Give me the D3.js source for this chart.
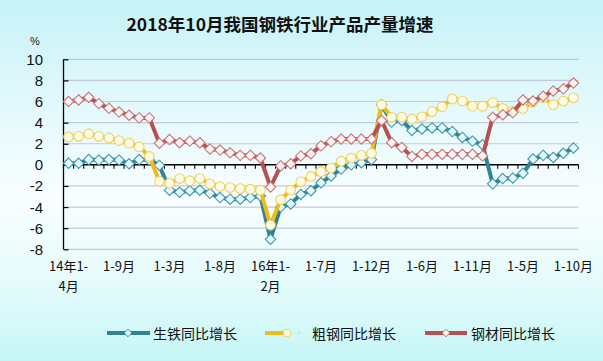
<!DOCTYPE html>
<html><head><meta charset="utf-8">
<script src="https://cdn.jsdelivr.net/npm/d3@7/dist/d3.min.js"></script>
<style>html,body{margin:0;padding:0;background:#fff;}svg{display:block;}</style>
</head><body>
<svg id="chart" width="603" height="361"></svg>
<script>
// ---- data ----
const categories = [
 "14年1-4月","14年1-5月","14年1-6月","14年1-7月","14年1-8月","14年1-9月","14年1-10月","14年1-11月","14年1-12月",
 "15年1-2月","15年1-3月","15年1-4月","15年1-5月","15年1-6月","15年1-7月","15年1-8月","15年1-9月","15年1-10月","15年1-11月","15年1-12月",
 "16年1-2月","16年1-3月","16年1-4月","16年1-5月","16年1-6月","16年1-7月","16年1-8月","16年1-9月","16年1-10月","16年1-11月","16年1-12月",
 "17年1-2月","17年1-3月","17年1-4月","17年1-5月","17年1-6月","17年1-7月","17年1-8月","17年1-9月","17年1-10月","17年1-11月","17年1-12月",
 "18年1-2月","18年1-3月","18年1-4月","18年1-5月","18年1-6月","18年1-7月","18年1-8月","18年1-9月","18年1-10月"
];
const pigIron = [0.15,0.15,0.5,0.45,0.5,0.45,0.1,0.5,0.45,-0.05,
 -2.4,-2.6,-2.45,-2.4,-2.7,-3.1,-3.25,-3.25,-3.1,-2.95,
 -7.05,-4.0,-3.7,-2.8,-2.45,-1.7,-1.05,-0.4,0.0,0.2,
 0.5,5.7,4.05,4.2,3.25,3.4,3.5,3.5,3.15,2.6,
 2.25,1.9,-1.8,-1.3,-1.25,-0.8,0.55,0.9,0.7,1.1,1.6];
const crudeSteel = [2.65,2.7,2.95,2.7,2.55,2.3,2.05,1.7,0.8,-1.55,
 -1.75,-1.3,-1.5,-1.3,-1.8,-2.05,-2.15,-2.25,-2.3,-2.4,
 -5.7,-3.3,-2.4,-1.6,-1.1,-0.65,-0.3,0.35,0.65,0.9,
 1.1,5.7,4.5,4.5,4.35,4.55,5.05,5.5,6.25,6.05,
 5.55,5.55,5.9,5.35,5.1,5.35,5.95,6.35,5.7,6.05,6.35];
const rolledSteel = [6.0,6.15,6.4,5.8,5.35,5.0,4.7,4.45,4.45,2.05,
 2.4,2.1,2.25,2.1,1.5,1.4,1.15,0.9,0.9,0.65,
 -2.1,-0.1,0.1,0.85,1.05,1.8,2.2,2.45,2.45,2.45,
 2.45,4.2,2.1,1.65,0.8,1.0,1.0,1.0,1.0,1.0,
 1.0,0.85,4.5,4.75,4.95,6.15,6.05,6.5,7.0,7.2,7.75];
const seriesNames = ["生铁同比增长","粗钢同比增长","钢材同比增长"];
const tickLabels = [["14年1-","4月"],["1-9月"],["1-3月"],["1-8月"],["16年1-","2月"],["1-7月"],["1-12月"],["1-6月"],["1-11月"],["1-5月"],["1-10月"]];
const yTicks = [10,8,6,4,2,0,-2,-4,-6,-8];
const title = "2018年10月我国钢铁行业产品产量增速";

// ---- setup ----
const svg = d3.select("#chart");
const W = 603, H = 361;
const defs = svg.append("defs");
const grad = defs.append("linearGradient").attr("id","bg").attr("x1",0).attr("y1",0).attr("x2",0).attr("y2",1);
[[0,"#c6f2f8"],[0.25,"#dff8fb"],[0.55,"#f9feff"],[0.78,"#e6fbfb"],[1,"#c6f6f7"]].forEach(([o,c])=>grad.append("stop").attr("offset",o).attr("stop-color",c));
svg.append("rect").attr("width",W).attr("height",H).attr("fill","url(#bg)");

const plotL = 63.5, plotR = 578.5, plotT = 59.3, plotB = 249.3;
const x = d3.scaleBand().domain(d3.range(categories.length)).range([plotL,plotR]);
const cx = i => x(i) + x.bandwidth()/2;
const y = d3.scaleLinear().domain([-8,10]).range([plotB, plotT]);

// title
svg.append("text").attr("x",280).attr("y",23).attr("text-anchor","middle").attr("dominant-baseline","central")
  .attr("font-family","'Noto Sans CJK SC', sans-serif").attr("font-weight","bold").attr("font-size",17.5).attr("fill","#111").text(title);
svg.append("text").attr("x",35).attr("y",41).attr("text-anchor","middle").attr("dominant-baseline","central")
  .attr("font-family","'Liberation Sans', sans-serif").attr("font-size",11).attr("fill","#222").text("%");

// gridlines
svg.append("g").selectAll("line").data(yTicks.filter(v=>v!==0)).join("line")
  .attr("x1",plotL).attr("x2",plotR).attr("y1",d=>y(d)).attr("y2",d=>y(d))
  .attr("stroke","#c3c9da").attr("stroke-width",1.2);

// y axis
const yAxis = d3.axisRight(y).tickValues(yTicks).tickSize(5).tickFormat("");
const gy = svg.append("g").attr("transform",`translate(${plotL},0)`).call(yAxis);
gy.select(".domain").attr("stroke","#000").attr("stroke-width",1.3).attr("d",`M0,${y(10)}V${y(-8)}`);
gy.selectAll(".tick line").attr("stroke","#000").attr("stroke-width",1.2);
svg.append("g").selectAll("text").data(yTicks).join("text")
  .attr("x",43).attr("y",d=>y(d)).attr("text-anchor","end").attr("dominant-baseline","central")
  .attr("font-family","'Liberation Sans', Arial, sans-serif").attr("font-size",15).attr("fill","#111")
  .text(d=>String(d));

// category axis at zero
const zeroY = y(0);
svg.append("line").attr("x1",plotL).attr("x2",plotR).attr("y1",zeroY).attr("y2",zeroY).attr("stroke","#000").attr("stroke-width",1.5);
const bounds = d3.range(categories.length+1).map(k => k<categories.length ? x(k) : plotR);
svg.append("g").selectAll("line").data(bounds).join("line")
  .attr("x1",d=>d).attr("x2",d=>d).attr("y1",zeroY).attr("y2",zeroY+4).attr("stroke","#000").attr("stroke-width",1.1);

// x labels every 5 categories
const labelIdx = d3.range(0, categories.length, 5);
const gl = svg.append("g").attr("font-family","'Noto Sans CJK SC', sans-serif").attr("font-size",13).attr("fill","#111");
labelIdx.forEach((ci,k)=>{
  tickLabels[k].forEach((t,li)=>{
    gl.append("text").attr("x",cx(ci)).attr("y",265.5+li*19.5).attr("text-anchor","middle").attr("dominant-baseline","central").text(t);
  });
});

// series
const diamond = "M0,-5.2L5.2,0L0,5.2L-5.2,0Z";
const series = [
  {name:seriesNames[0], values:pigIron, color:"#2f8395", mStroke:"#3f97ab", mFill:"#e6f8fc", shape:"diamond"},
  {name:seriesNames[1], values:crudeSteel, color:"#efbe16", mStroke:"#f0d062", mFill:"#fffbe6", shape:"circle"},
  {name:seriesNames[2], values:rolledSteel, color:"#b8504f", mStroke:"#c57678", mFill:"#fff3f3", shape:"diamond"}
];
const line = d3.line().x((d,i)=>cx(i)).y(d=>y(d));
series.forEach(s=>{
  const g = svg.append("g");
  g.append("path").attr("d",line(s.values)).attr("fill","none").attr("stroke",s.color).attr("stroke-width",4).attr("stroke-linejoin","round");
  if (s.shape==="circle") {
    g.selectAll("circle").data(s.values).join("circle").attr("cx",(d,i)=>cx(i)).attr("cy",d=>y(d)).attr("r",4.8)
      .attr("fill",s.mFill).attr("stroke",s.mStroke).attr("stroke-width",1.1);
  } else {
    g.selectAll("path.m").data(s.values).join("path").attr("class","m").attr("d",diamond)
      .attr("transform",(d,i)=>`translate(${cx(i)},${y(d)})`)
      .attr("fill",s.mFill).attr("stroke",s.mStroke).attr("stroke-width",1.1);
  }
});

// legend
const legY = 333;
const legItems = [
  {s:series[0], x1:107, x2:150, mx:128, tx:153},
  {s:series[1], x1:265, x2:287, mx:287, tx:312},
  {s:series[2], x1:425, x2:467, mx:446, tx:471}
];
const lg = svg.append("g");
legItems.forEach(it=>{
  lg.append("line").attr("x1",it.x1).attr("x2",it.x2).attr("y1",legY).attr("y2",legY).attr("stroke",it.s.color).attr("stroke-width",4);
  if (it.s.shape==="circle") {
    lg.append("circle").attr("cx",it.mx).attr("cy",legY).attr("r",3.8).attr("fill",it.s.mFill).attr("stroke",it.s.mStroke).attr("stroke-width",1.1);
    lg.append("circle").attr("cx",it.mx+12).attr("cy",legY).attr("r",1.2).attr("fill","#e6dca0");
  } else {
    lg.append("path").attr("d","M0,-3.8L3.8,0L0,3.8L-3.8,0Z").attr("transform",`translate(${it.mx},${legY})`).attr("fill",it.s.mFill).attr("stroke",it.s.mStroke).attr("stroke-width",1);
  }
  lg.append("text").attr("x",it.tx).attr("y",legY).attr("dominant-baseline","central")
    .attr("font-family","'Noto Sans CJK SC', sans-serif").attr("font-size",14).attr("fill","#111").text(it.s.name);
});
</script>
</body></html>
